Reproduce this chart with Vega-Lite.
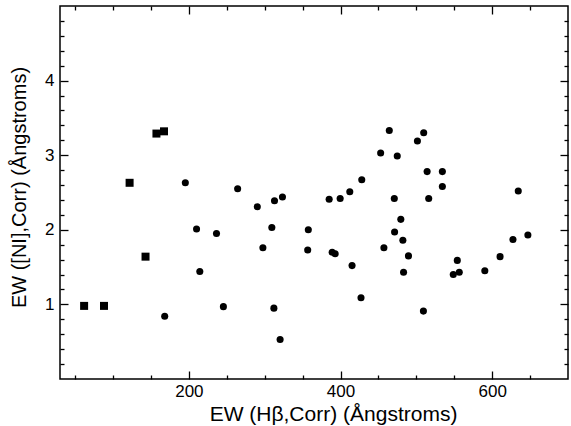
{
  "$schema": "https://vega.github.io/schema/vega-lite/v6.json",
  "width": 508,
  "height": 373,
  "autosize": "none",
  "padding": {"left": 60, "top": 6, "right": 3, "bottom": 47},
  "config": {
    "view": {"stroke": "#000", "strokeWidth": 1.5},
    "font": "Liberation Sans",
    "axis": {"domain": false, "grid": false, "tickColor": "#000", "tickWidth": 1.3, "labelColor": "#000", "titleColor": "#000", "labelFontSize": 17, "titleFontSize": 21, "titleFontWeight": "normal", "labelFont": "Liberation Sans", "titleFont": "Liberation Sans"}
  },
  "datasets": {
    "circles": [
      {"hb": 195.3, "ni": 2.63}, {"hb": 264.3, "ni": 2.55}, {"hb": 290.2, "ni": 2.31}, {"hb": 312.9, "ni": 2.39},
      {"hb": 323.4, "ni": 2.44}, {"hb": 210.1, "ni": 2.01}, {"hb": 309.4, "ni": 2.03}, {"hb": 357.5, "ni": 2.0},
      {"hb": 236.4, "ni": 1.95}, {"hb": 464.3, "ni": 3.33}, {"hb": 509.7, "ni": 3.3}, {"hb": 501.4, "ni": 3.19},
      {"hb": 452.9, "ni": 3.03}, {"hb": 474.8, "ni": 2.99}, {"hb": 514.2, "ni": 2.78}, {"hb": 534.3, "ni": 2.78},
      {"hb": 534.3, "ni": 2.58}, {"hb": 428.0, "ni": 2.67}, {"hb": 412.2, "ni": 2.51}, {"hb": 399.5, "ni": 2.42},
      {"hb": 385.0, "ni": 2.41}, {"hb": 470.9, "ni": 2.42}, {"hb": 516.3, "ni": 2.42}, {"hb": 479.5, "ni": 2.14},
      {"hb": 471.3, "ni": 1.97}, {"hb": 634.4, "ni": 2.52}, {"hb": 297.6, "ni": 1.76}, {"hb": 356.7, "ni": 1.73},
      {"hb": 214.4, "ni": 1.44}, {"hb": 245.5, "ni": 0.97}, {"hb": 312.1, "ni": 0.95}, {"hb": 320.3, "ni": 0.53},
      {"hb": 168.1, "ni": 0.84}, {"hb": 482.2, "ni": 1.86}, {"hb": 457.2, "ni": 1.76}, {"hb": 389.0, "ni": 1.7},
      {"hb": 392.9, "ni": 1.68}, {"hb": 489.6, "ni": 1.65}, {"hb": 415.2, "ni": 1.52}, {"hb": 483.1, "ni": 1.43},
      {"hb": 427.0, "ni": 1.09}, {"hb": 509.3, "ni": 0.91}, {"hb": 647.1, "ni": 1.93}, {"hb": 627.4, "ni": 1.87},
      {"hb": 610.4, "ni": 1.64}, {"hb": 554.0, "ni": 1.59}, {"hb": 548.7, "ni": 1.4}, {"hb": 556.6, "ni": 1.43},
      {"hb": 590.3, "ni": 1.45}
    ],
    "squares": [
      {"hb": 157.2, "ni": 3.29}, {"hb": 167.2, "ni": 3.32}, {"hb": 121.8, "ni": 2.63},
      {"hb": 142.8, "ni": 1.64}, {"hb": 61.8, "ni": 0.98}, {"hb": 88.0, "ni": 0.98}
    ]
  },
  "resolve": {"axis": {"x": "independent", "y": "independent"}},
  "layer": [
    {
      "data": {"name": "circles"},
      "mark": {"type": "circle", "color": "#000", "opacity": 1, "size": 50},
      "encoding": {
        "x": {"field": "hb", "type": "quantitative", "scale": {"domain": [30, 700], "nice": false, "zero": false},
          "axis": {"orient": "bottom", "values": [200, 400, 600], "tickSize": -8, "labelPadding": 12, "title": "EW (Hβ,Corr) (Ångstroms)", "titlePadding": 4, "titleX": 273}},
        "y": {"field": "ni", "type": "quantitative", "scale": {"domain": [0, 5], "nice": false, "zero": false},
          "axis": {"orient": "left", "values": [1, 2, 3, 4], "tickSize": -8, "labelPadding": 14, "title": "EW ([NI],Corr) (Ångstroms)", "titleFontSize": 20, "titlePadding": 15, "titleY": 181}}
      }
    },
    {
      "data": {"name": "squares"},
      "mark": {"type": "square", "color": "#000", "opacity": 1, "filled": true, "size": 64},
      "encoding": {
        "x": {"field": "hb", "type": "quantitative",
          "axis": {"orient": "bottom", "values": [50, 100, 150, 250, 300, 350, 450, 500, 550, 650], "tickSize": -4, "labels": false, "title": null}},
        "y": {"field": "ni", "type": "quantitative",
          "axis": {"orient": "left", "values": [0.2, 0.4, 0.6, 0.8, 1.2, 1.4, 1.6, 1.8, 2.2, 2.4, 2.6, 2.8, 3.2, 3.4, 3.6, 3.8, 4.2, 4.4, 4.6, 4.8], "tickSize": -4, "labels": false, "title": null}}
      }
    },
    {
      "data": {"name": "squares"},
      "mark": {"type": "square", "opacity": 0},
      "encoding": {
        "x": {"field": "hb", "type": "quantitative",
          "axis": {"orient": "top", "values": [200, 400, 600], "tickSize": -8, "labels": false, "title": null}},
        "y": {"field": "ni", "type": "quantitative",
          "axis": {"orient": "right", "values": [1, 2, 3, 4], "tickSize": -8, "labels": false, "title": null}}
      }
    },
    {
      "data": {"name": "squares"},
      "mark": {"type": "square", "opacity": 0},
      "encoding": {
        "x": {"field": "hb", "type": "quantitative",
          "axis": {"orient": "top", "values": [50, 100, 150, 250, 300, 350, 450, 500, 550, 650], "tickSize": -4, "labels": false, "title": null}},
        "y": {"field": "ni", "type": "quantitative",
          "axis": {"orient": "right", "values": [0.2, 0.4, 0.6, 0.8, 1.2, 1.4, 1.6, 1.8, 2.2, 2.4, 2.6, 2.8, 3.2, 3.4, 3.6, 3.8, 4.2, 4.4, 4.6, 4.8], "tickSize": -4, "labels": false, "title": null}}
      }
    }
  ]
}
